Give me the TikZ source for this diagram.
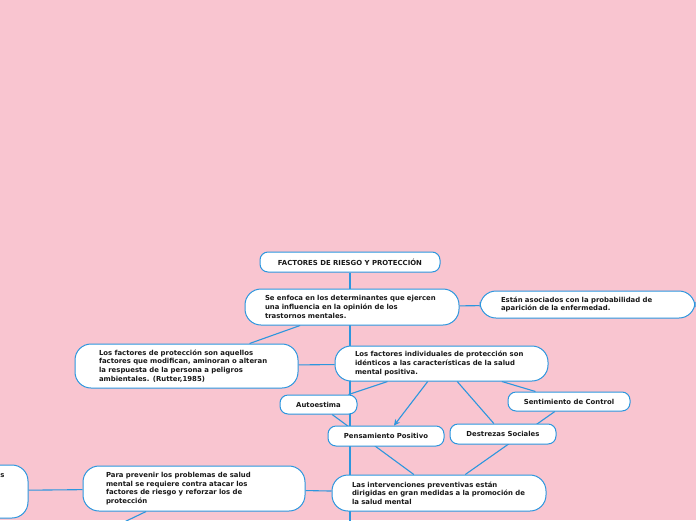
\documentclass[tikz,border=0pt]{standalone}
\usepackage{fontspec}
\setmainfont{DejaVu Sans}
\usetikzlibrary{arrows.meta,backgrounds}
\definecolor{fondo}{RGB}{249,197,208}
\definecolor{azul}{RGB}{44,150,222}
\begin{document}
\begin{tikzpicture}[
  x=1pt, y=-1pt,
  every node/.style={font=\fontsize{6.9}{8.7}\selectfont\bfseries, text=black!90},
  idea/.style={draw=azul, fill=white, line width=1pt, rounded corners=16pt,
    align=left, inner xsep=21pt, inner ysep=2pt},
  tag/.style={draw=azul, fill=white, line width=1pt, rounded corners=8pt,
    align=center, inner sep=2pt, minimum height=19pt},
  rama/.style={draw=azul, line width=1.1pt}
]
\useasboundingbox (0,0) rectangle (696,520);
\node[tag, minimum width=180pt, minimum height=20pt] (titulo) at (350,262) {FACTORES DE RIESGO Y PROTECCIÓN};
\node[idea, text width=174pt, inner xsep=20pt, minimum height=36pt] (enfoca) at (352,307)
  {Se enfoca en los determinantes que ejercen\\una influencia en la opinión de los\\trastornos mentales.};
\node[idea, text width=173pt, minimum height=27pt] (asociados) at (587.5,304.5)
  {Están asociados con la probabilidad de\\aparición de la enfermedad.};
\node[idea, text width=175pt, inner xsep=24pt, minimum height=44pt] (proteccion) at (186.5,366)
  {Los factores de protección son aquellos\\factores que modifican, aminoran o alteran\\la respuesta de la persona a peligros\\ambientales. (Rutter,1985)};
\node[idea, text width=173pt, inner xsep=20pt, minimum height=35pt] (individuales) at (441.5,363.5)
  {Los factores individuales de protección son\\idénticos a las características de la salud\\mental positiva.};
\node[tag, minimum width=77pt] (autoestima) at (318.5,404.5) {Autoestima};
\node[tag, minimum width=122pt] (control) at (569,401.5) {Sentimiento de Control};
\node[tag, minimum width=116pt, minimum height=20pt] (positivo) at (386,436) {Pensamiento Positivo};
\node[tag, minimum width=106pt, minimum height=20pt] (destrezas) at (503,434) {Destrezas Sociales};
\node[idea, text width=176pt, inner xsep=23pt, minimum height=45pt] (prevenir) at (194,488.5)
  {Para prevenir los problemas de salud\\mental se requiere contra atacar los\\factores de riesgo y reforzar los de\\protección};
\node[idea, text width=174pt, inner xsep=20pt, minimum height=36pt] (intervenciones) at (439,493)
  {Las intervenciones preventivas están\\dirigidas en gran medidas a la promoción de\\la salud mental};
\node[idea, minimum width=256pt, minimum height=53pt] (previo) at (-100,491.5) {};
\node[inner sep=0pt, anchor=west] (previotxt) at (0.3,476) {s};
\coordinate (abajo) at (350,530);
\coordinate (salida) at (95,536);
\begin{pgfonlayer}{background}
  \fill[fondo] (0,0) rectangle (696,520);
  \draw[rama] (titulo.south) -- (abajo);
  \draw[rama] (enfoca) -- (asociados);
  \draw[rama] (enfoca) -- (proteccion);
  \draw[rama] (proteccion) -- (individuales);
  \draw[rama] (individuales) -- (autoestima);
  \draw[rama, -{Stealth[length=6pt,width=6pt]}] (individuales) -- (positivo);
  \draw[rama] (individuales) -- (destrezas);
  \draw[rama] (individuales) -- (control);
  \draw[rama] (autoestima) -- (intervenciones);
  \draw[rama] (control) -- (intervenciones);
  \draw[rama] (prevenir) -- (intervenciones);
  \draw[rama] (previo) -- (prevenir);
  \draw[rama] (prevenir) -- (salida);
\end{pgfonlayer}
\end{tikzpicture}
\end{document}
